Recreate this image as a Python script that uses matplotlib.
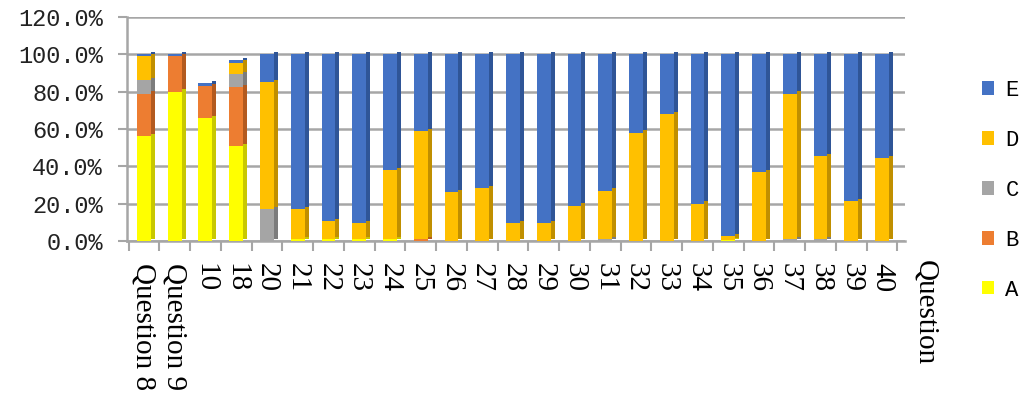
import numpy as np
import matplotlib
matplotlib.use('agg')
from matplotlib import pyplot as plt
from matplotlib.patches import Patch

categories = ['Question 8', 'Question 9', '10', '18', '20', '21', '22', '23', '24', '25',
              '26', '27', '28', '29', '30', '31', '32', '33', '34', '35',
              '36', '37', '38', '39', '40']

A = [56, 80, 66, 51, 0, 1, 1, 1, 1, 0, 0, 0, 0, 0, 0, 0, 0, 0, 0, 0.5, 0, 0, 0, 0, 0]
B = [23, 19, 17, 31.5, 0, 0, 0, 0, 0, 1, 0, 0, 0, 0, 0, 0, 0, 0, 0, 0, 0, 0, 0, 0, 0]
C = [7, 0, 0, 7, 17, 0, 0, 0, 0, 0, 0, 0, 0, 0, 0, 1, 0, 0, 0, 0, 0, 1, 1, 0, 0]
D = [13, 0, 0, 6, 68, 16, 9.5, 8.5, 37, 58, 26, 28.5, 9.5, 9.5, 19, 26, 58, 68, 20, 2,
     37, 78, 44.5, 21.5, 44.5]
E = [1, 1, 1.5, 1.3, 15, 83, 89.5, 90.5, 62, 41, 74, 71.5, 90.5, 90.5, 81, 73, 42, 32, 80,
     97.5, 63, 21, 54.5, 78.5, 55.5]

seriesNames = ['A', 'B', 'C', 'D', 'E']
seriesVals = [A, B, C, D, E]
faceCols = ['#FFFF00', '#ED7D31', '#A5A5A5', '#FFC000', '#4472C4']
sideCols = ['#C8C800', '#B35A1F', '#7C7C7C', '#C08F00', '#2F5597']

gridCol = '#A6A6A6'

fig = plt.figure(figsize=(10.23, 4.0), dpi=100)
ax = fig.add_axes([127 / 1023., 1 - 241 / 400., (905 - 127) / 1023., 224 / 400.])

x = np.arange(len(categories))
barW = 0.45
sideW = 0.13

bottom = np.zeros(len(categories))
for name, vals, fc, sc in zip(seriesNames, seriesVals, faceCols, sideCols):
    vals = np.array(vals, dtype=float)
    ax.bar(x, vals, barW, bottom=bottom, color=fc, linewidth=0, zorder=3)
    # fake 3d side face
    ax.bar(x + barW / 2 + sideW / 2, vals, sideW, bottom=bottom + 1.2, color=sc,
           linewidth=0, zorder=3)
    bottom += vals

ax.set_ylim(0, 120)
ax.set_xlim(-0.55, 24.75)
ax.set_yticks(np.arange(0, 121, 20))
ax.set_yticklabels(['{:.1f}%'.format(v) for v in np.arange(0, 121, 20)],
                   family='Liberation Mono', fontsize=17, color='#222222')
ax.yaxis.grid(True, color=gridCol, linewidth=1.8, zorder=0)
ax.tick_params(axis='y', length=6.5, width=1.5, color=gridCol, pad=11, direction='out')

ax.set_xticks(x)
ax.set_xticklabels(categories, rotation=270, family='Liberation Serif', fontsize=21,
                   va='top', ha='center')
ax.set_xticks(np.arange(-0.5, 24.6, 1), minor=True)
ax.tick_params(axis='x', which='major', length=0, pad=16)
ax.tick_params(axis='x', which='minor', length=7, width=1.5, color=gridCol)

for side in ['top', 'right']:
    ax.spines[side].set_visible(False)
ax.spines['left'].set_color(gridCol)
ax.spines['left'].set_linewidth(1.8)
ax.spines['bottom'].set_color(gridCol)
ax.spines['bottom'].set_linewidth(1.8)
ax.set_axisbelow(True)

fig.text(925 / 1023., 1 - 260 / 400., 'Question', rotation=270, family='Liberation Serif',
         fontsize=21, va='top', ha='center')

handles = [Patch(facecolor=c, edgecolor='none') for c in faceCols[::-1]]
fig.legend(handles, seriesNames[::-1], loc='upper left', bbox_to_anchor=(982 / 1023., 1 - 80 / 400.),
           frameon=False, handlelength=0.55, handleheight=0.55, handletextpad=0.5,
           labelspacing=1.3, borderpad=0, borderaxespad=0,
           prop={'family': 'Liberation Mono', 'size': 16})

fig.savefig('out.png', dpi=100)
